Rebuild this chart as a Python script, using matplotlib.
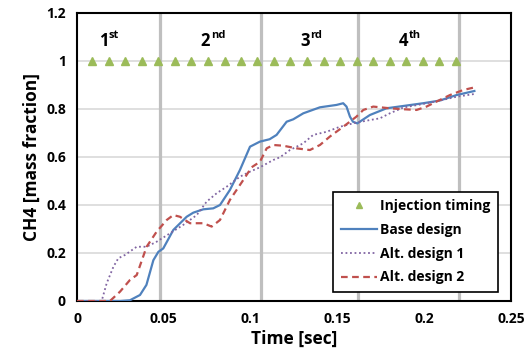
import numpy as np
import matplotlib
matplotlib.use("Agg")
import matplotlib.pyplot as plt

plt.rcParams['font.family'] = ['Open Sans', 'DejaVu Sans']
plt.rcParams['font.weight'] = 'bold'

# injection timing marks (all at 1.0)
injTime = [0.0088, 0.0183, 0.0278, 0.0374, 0.0469, 0.0564, 0.0659, 0.0754,
           0.0850, 0.0945, 0.1040, 0.1135, 0.1230, 0.1326, 0.1421, 0.1516,
           0.1611, 0.1706, 0.1802, 0.1897, 0.1992, 0.2087, 0.2182]
injValue = [1.0] * len(injTime)

# cycle boundaries and labels
cycleLines = [0.0478, 0.1058, 0.162, 0.220]
cycleNames = ["1", "2", "3", "4"]
cycleSups = ["st", "nd", "rd", "th"]
cycleLabelX = [0.0179, 0.0766, 0.134, 0.191]

baseT = [0.0, 0.015, 0.025, 0.0305, 0.0363, 0.040, 0.044, 0.0469, 0.0497, 0.0555,
         0.0632, 0.067, 0.0728, 0.0785, 0.0824, 0.0881, 0.0939, 0.0997, 0.1054,
         0.111, 0.115, 0.1208, 0.1246, 0.1304, 0.140, 0.1496, 0.1534, 0.1553,
         0.1573, 0.159, 0.1615, 0.1688, 0.1784, 0.188, 0.1995, 0.209, 0.2187, 0.229]
baseY = [0.0, 0.0, 0.0, 0.003, 0.025, 0.067, 0.17, 0.205, 0.219, 0.296,
         0.351, 0.368, 0.382, 0.386, 0.40, 0.4625, 0.546, 0.643, 0.664,
         0.674, 0.692, 0.747, 0.757, 0.782, 0.807, 0.817, 0.824, 0.81,
         0.768, 0.747, 0.74, 0.775, 0.803, 0.8125, 0.824, 0.835, 0.858, 0.875]

alt1T = [0.0, 0.0142, 0.0171, 0.021, 0.0238, 0.0277, 0.0344, 0.0401, 0.0459, 0.0536,
         0.0612, 0.069, 0.0747, 0.0805, 0.0862, 0.0939, 0.0997, 0.1054, 0.1131,
         0.117, 0.1227, 0.1304, 0.1361, 0.1438, 0.1515, 0.159, 0.1688, 0.1745,
         0.1803, 0.188, 0.1995, 0.209, 0.2187, 0.229]
alt1Y = [0.0, 0.0, 0.074, 0.143, 0.178, 0.192, 0.226, 0.226, 0.247, 0.282,
         0.317, 0.358, 0.414, 0.449, 0.476, 0.518, 0.539, 0.557, 0.5875,
         0.599, 0.629, 0.657, 0.692, 0.705, 0.726, 0.74, 0.754, 0.761,
         0.782, 0.806, 0.821, 0.835, 0.851, 0.8625]

alt2T = [0.0, 0.019, 0.0248, 0.0305, 0.0344, 0.0401, 0.0459, 0.0517, 0.0555, 0.0593,
         0.0651, 0.0728, 0.0776, 0.0824, 0.0881, 0.0958, 0.1006, 0.1054, 0.1093,
         0.1131, 0.1189, 0.1265, 0.1342, 0.140, 0.1457, 0.1534, 0.161, 0.165,
         0.1707, 0.1803, 0.188, 0.1957, 0.2014, 0.2072, 0.2149, 0.2225, 0.229]
alt2Y = [0.0, 0.0, 0.039, 0.0875, 0.108, 0.226, 0.289, 0.3375, 0.358, 0.351,
         0.324, 0.324, 0.31, 0.3375, 0.421, 0.504, 0.557, 0.58, 0.636,
         0.65, 0.647, 0.636, 0.629, 0.65, 0.685, 0.726, 0.768, 0.796,
         0.81, 0.803, 0.799, 0.796, 0.81, 0.831, 0.858, 0.879, 0.89]

fig = plt.figure(figsize=(5.25, 3.59), dpi=100)
ax = fig.add_axes([0.1467, 0.1616, 0.8263, 0.8022])

ax.set_xlim(0, 0.25)
ax.set_ylim(0, 1.2)
ax.set_yticks(np.arange(0, 1.21, 0.2))
ax.set_yticklabels(["0", "0.2", "0.4", "0.6", "0.8", "1", "1.2"])
ax.set_xticks([0, 0.05, 0.1, 0.15, 0.2, 0.25])
ax.set_xticklabels(["0", "0.05", "0.1", "0.15", "0.2", "0.25"])
ax.tick_params(length=0, labelsize=10, pad=8)
ax.grid(axis='y', color='#d9d9d9', linewidth=1.2, zorder=0)
ax.set_axisbelow(True)
for s in ax.spines.values():
    s.set_linewidth(1.5)
    s.set_color('black')

for xl in cycleLines:
    ax.axvline(xl, color='#bfbfbf', linewidth=2.3, zorder=1)

ax.plot(injTime, injValue, linestyle='none', marker='^', markersize=6,
        color='#9bbb59', label='Injection timing', zorder=3)
ax.plot(baseT, baseY, color='#4f81bd', linewidth=1.6, label='Base design', zorder=4)
ax.plot(alt1T, alt1Y, color='#8064a2', linewidth=1.3, linestyle=(0, (1, 1.5)),
        label='Alt. design 1', zorder=4)
ax.plot(alt2T, alt2Y, color='#c0504d', linewidth=1.6, linestyle=(0, (3, 2)),
        label='Alt. design 2', zorder=4)

for xc, n, sup in zip(cycleLabelX, cycleNames, cycleSups):
    ax.text(xc, 1.085, n, ha='right', va='center', fontsize=12, fontweight='bold')
    ax.annotate(sup, xy=(xc, 1.085), xytext=(0.5, 4), textcoords='offset points',
                ha='left', va='center', fontsize=8, fontweight='bold')

ax.set_xlabel("Time [sec]", fontsize=12.5, fontweight='bold', labelpad=3)
ax.set_ylabel("CH4 [mass fraction]", fontsize=12.5, fontweight='bold')

leg = ax.legend(loc='lower right', bbox_to_anchor=(0.97, 0.031), fancybox=False,
                framealpha=1, edgecolor='black', prop={'weight': 'bold', 'size': 10},
                handlelength=2.6, handletextpad=0.2, borderpad=0.55, labelspacing=0.7,
                markerscale=0.8, borderaxespad=0)
leg.get_frame().set_linewidth(1.2)
leg.set_zorder(10)

plt.savefig("out.png", dpi=100)
plt.close(fig)
